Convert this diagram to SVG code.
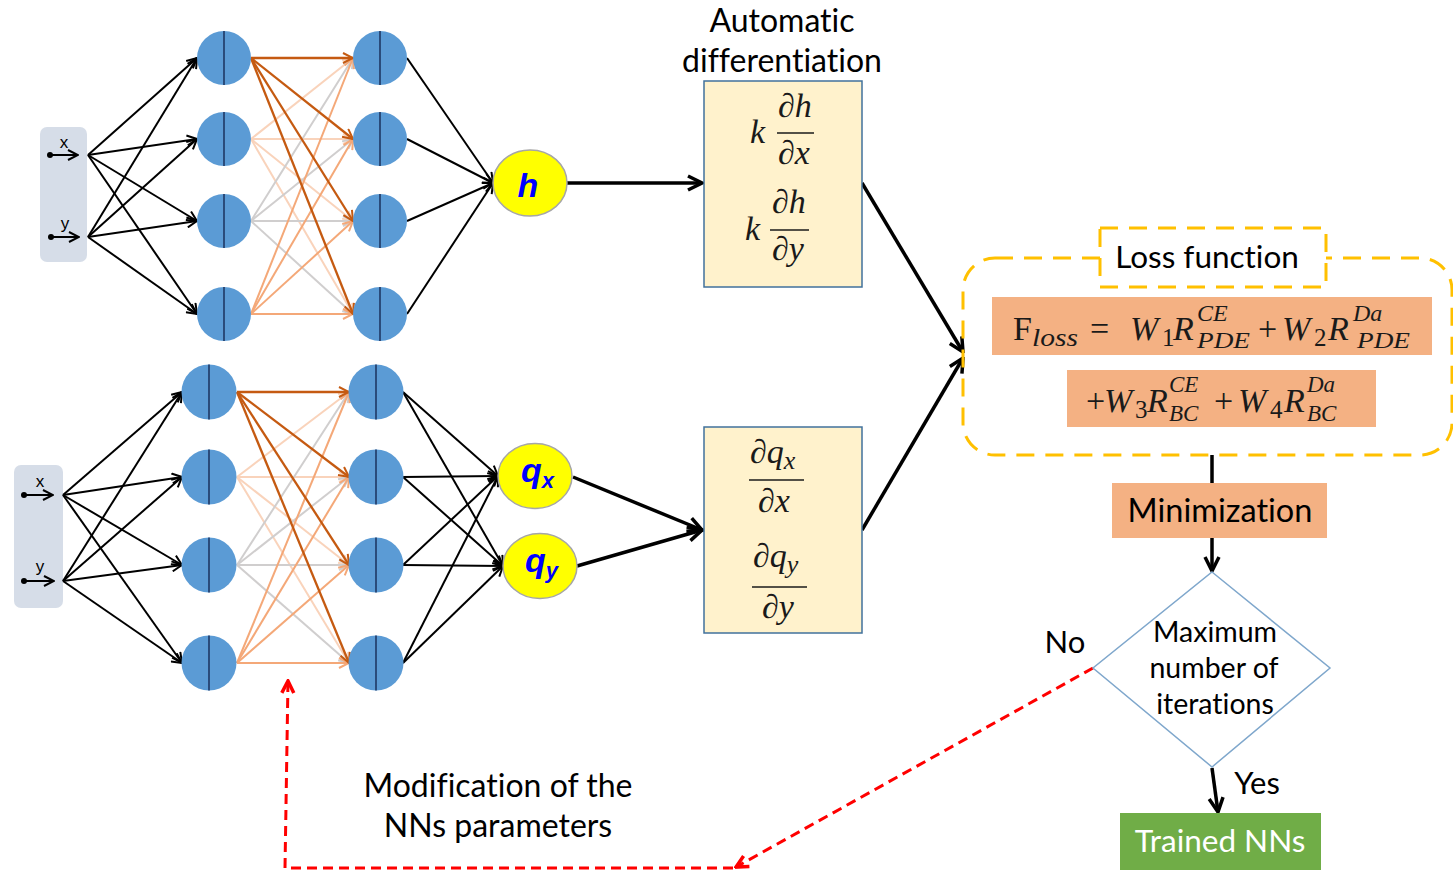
<svg xmlns="http://www.w3.org/2000/svg" width="1453" height="871" viewBox="0 0 1453 871">
  <style>
    .bg { fill: #ffffff; }
    .inbox { fill: #d6dde8; }
    .neuron circle { fill: #5b9bd5; }
    .neuron line { stroke: #1f3864; stroke-width: 1.6; }
    .out ellipse { fill: #ffff00; stroke: #a6a6a6; stroke-width: 1.5; }
    .out text { font-family: "Liberation Sans", Arial, sans-serif; font-weight: bold; font-style: italic; fill: #0000ff; }
    .e-k { stroke: #000; stroke-width: 2; fill: none; marker-end: url(#ak); }
    .e-dk { stroke: #c55a11; stroke-width: 2.3; marker-end: url(#adk); }
    .e-pe { stroke: #f9d3bb; stroke-width: 2; marker-end: url(#ape); }
    .e-gr { stroke: #d0cece; stroke-width: 2; marker-end: url(#agr); }
    .e-or { stroke: #f4a878; stroke-width: 2; marker-end: url(#aor); }
    .thick { stroke: #000; stroke-width: 3.5; fill: none; marker-end: url(#akb); }
    .red { stroke: #ff0000; stroke-width: 3; fill: none; stroke-dasharray: 10 6; }
    .label { font-family: Lato, "Open Sans", sans-serif; fill: #000; font-variant-ligatures: none; }
    .math { font-family: "Liberation Serif", "Times New Roman", serif; fill: #1a1a1a; }
    .it { font-style: italic; }
    .dbox { fill: #fff2cc; stroke: #41719c; stroke-width: 1.5; }
    .salmon { fill: #f4b183; }
    .gold { fill: none; stroke: #ffc000; stroke-width: 3; stroke-dasharray: 18 11; }
  </style>
  <defs>
    <marker id="ak" viewBox="0 0 12 12" refX="11" refY="6" markerWidth="12" markerHeight="12" markerUnits="userSpaceOnUse" orient="auto">
      <path d="M1,1 L11,6 L1,11" fill="none" stroke="#000" stroke-width="2"/>
    </marker>
    <marker id="adk" viewBox="0 0 12 12" refX="11" refY="6" markerWidth="12" markerHeight="12" markerUnits="userSpaceOnUse" orient="auto">
      <path d="M1,1 L11,6 L1,11" fill="none" stroke="#c55a11" stroke-width="2"/>
    </marker>
    <marker id="ape" viewBox="0 0 12 12" refX="11" refY="6" markerWidth="12" markerHeight="12" markerUnits="userSpaceOnUse" orient="auto">
      <path d="M1,1 L11,6 L1,11" fill="none" stroke="#f9d3bb" stroke-width="2"/>
    </marker>
    <marker id="agr" viewBox="0 0 12 12" refX="11" refY="6" markerWidth="12" markerHeight="12" markerUnits="userSpaceOnUse" orient="auto">
      <path d="M1,1 L11,6 L1,11" fill="none" stroke="#d0cece" stroke-width="2"/>
    </marker>
    <marker id="aor" viewBox="0 0 12 12" refX="11" refY="6" markerWidth="12" markerHeight="12" markerUnits="userSpaceOnUse" orient="auto">
      <path d="M1,1 L11,6 L1,11" fill="none" stroke="#f4a878" stroke-width="2"/>
    </marker>
    <marker id="akb" viewBox="0 0 18 18" refX="16" refY="9" markerWidth="18" markerHeight="18" markerUnits="userSpaceOnUse" orient="auto">
      <path d="M2,2 L16,9 L2,16" fill="none" stroke="#000" stroke-width="3.5"/>
    </marker>
    <marker id="ared" viewBox="0 0 16 16" refX="14" refY="8" markerWidth="16" markerHeight="16" markerUnits="userSpaceOnUse" orient="auto">
      <path d="M2,2 L14,8 L2,14" fill="none" stroke="#ff0000" stroke-width="3.5"/>
    </marker>
  </defs>

  <rect class="bg" x="0" y="0" width="1453" height="871"/>

  <!-- input boxes -->
  <g id="input-top">
    <rect class="inbox" x="40" y="127" width="47" height="135" rx="7"/>
    <circle cx="50" cy="155" r="3" fill="#000"/>
    <line class="e-k" x1="50" y1="155" x2="78" y2="155"/>
    <text x="64" y="148" font-family="Liberation Sans, sans-serif" font-size="17" text-anchor="middle">x</text>
    <circle cx="51" cy="237" r="3" fill="#000"/>
    <line class="e-k" x1="51" y1="237" x2="79" y2="237"/>
    <text x="65" y="229" font-family="Liberation Sans, sans-serif" font-size="17" text-anchor="middle">y</text>
  </g>
  <g id="input-bottom">
    <rect class="inbox" x="14" y="465" width="49" height="143" rx="7"/>
    <circle cx="24" cy="495" r="3" fill="#000"/>
    <line class="e-k" x1="24" y1="495" x2="53" y2="495"/>
    <text x="40" y="487" font-family="Liberation Sans, sans-serif" font-size="17" text-anchor="middle">x</text>
    <circle cx="24" cy="581" r="3" fill="#000"/>
    <line class="e-k" x1="24" y1="581" x2="54" y2="581"/>
    <text x="40" y="572" font-family="Liberation Sans, sans-serif" font-size="17" text-anchor="middle">y</text>
  </g>

  <!-- connectors -->
  <g id="connectors">
    <!-- top network: inputs to first hidden layer -->
    <line class="e-k" x1="88" y1="155" x2="197" y2="58"/>
    <line class="e-k" x1="88" y1="155" x2="197" y2="139"/>
    <line class="e-k" x1="88" y1="155" x2="197" y2="221"/>
    <line class="e-k" x1="88" y1="155" x2="197" y2="314"/>
    <line class="e-k" x1="88" y1="237" x2="197" y2="58"/>
    <line class="e-k" x1="88" y1="237" x2="197" y2="139"/>
    <line class="e-k" x1="88" y1="237" x2="197" y2="221"/>
    <line class="e-k" x1="88" y1="237" x2="197" y2="314"/>
    <!-- top network: hidden to hidden -->
    <line class="e-pe" x1="251" y1="139" x2="353" y2="58"/>
    <line class="e-pe" x1="251" y1="139" x2="353" y2="139"/>
    <line class="e-pe" x1="251" y1="139" x2="353" y2="221"/>
    <line class="e-pe" x1="251" y1="139" x2="353" y2="314"/>
    <line class="e-gr" x1="251" y1="221" x2="353" y2="58"/>
    <line class="e-gr" x1="251" y1="221" x2="353" y2="139"/>
    <line class="e-gr" x1="251" y1="221" x2="353" y2="221"/>
    <line class="e-gr" x1="251" y1="221" x2="353" y2="314"/>
    <line class="e-or" x1="251" y1="314" x2="353" y2="58"/>
    <line class="e-or" x1="251" y1="314" x2="353" y2="139"/>
    <line class="e-or" x1="251" y1="314" x2="353" y2="221"/>
    <line class="e-or" x1="251" y1="314" x2="353" y2="314"/>
    <line class="e-dk" x1="251" y1="58" x2="353" y2="58"/>
    <line class="e-dk" x1="251" y1="58" x2="353" y2="139"/>
    <line class="e-dk" x1="251" y1="58" x2="353" y2="221"/>
    <line class="e-dk" x1="251" y1="58" x2="353" y2="314"/>
    <!-- top network: hidden to h -->
    <line class="e-k" x1="407" y1="58" x2="493" y2="183"/>
    <line class="e-k" x1="407" y1="139" x2="493" y2="183"/>
    <line class="e-k" x1="407" y1="221" x2="493" y2="183"/>
    <line class="e-k" x1="407" y1="314" x2="493" y2="183"/>

    <!-- bottom network: inputs to first hidden layer -->
    <line class="e-k" x1="63" y1="495" x2="182" y2="392"/>
    <line class="e-k" x1="63" y1="495" x2="182" y2="477"/>
    <line class="e-k" x1="63" y1="495" x2="182" y2="565"/>
    <line class="e-k" x1="63" y1="495" x2="182" y2="663"/>
    <line class="e-k" x1="63" y1="581" x2="182" y2="392"/>
    <line class="e-k" x1="63" y1="581" x2="182" y2="477"/>
    <line class="e-k" x1="63" y1="581" x2="182" y2="565"/>
    <line class="e-k" x1="63" y1="581" x2="182" y2="663"/>
    <!-- bottom network: hidden to hidden -->
    <line class="e-pe" x1="237" y1="477" x2="349" y2="392"/>
    <line class="e-pe" x1="237" y1="477" x2="349" y2="477"/>
    <line class="e-pe" x1="237" y1="477" x2="349" y2="565"/>
    <line class="e-pe" x1="237" y1="477" x2="349" y2="663"/>
    <line class="e-gr" x1="237" y1="565" x2="349" y2="392"/>
    <line class="e-gr" x1="237" y1="565" x2="349" y2="477"/>
    <line class="e-gr" x1="237" y1="565" x2="349" y2="565"/>
    <line class="e-gr" x1="237" y1="565" x2="349" y2="663"/>
    <line class="e-or" x1="237" y1="663" x2="349" y2="392"/>
    <line class="e-or" x1="237" y1="663" x2="349" y2="477"/>
    <line class="e-or" x1="237" y1="663" x2="349" y2="565"/>
    <line class="e-or" x1="237" y1="663" x2="349" y2="663"/>
    <line class="e-dk" x1="237" y1="392" x2="349" y2="392"/>
    <line class="e-dk" x1="237" y1="392" x2="349" y2="477"/>
    <line class="e-dk" x1="237" y1="392" x2="349" y2="565"/>
    <line class="e-dk" x1="237" y1="392" x2="349" y2="663"/>
    <!-- bottom network: hidden to qx / qy -->
    <line class="e-k" x1="403" y1="392" x2="498" y2="476"/>
    <line class="e-k" x1="403" y1="477" x2="498" y2="476"/>
    <line class="e-k" x1="403" y1="565" x2="498" y2="476"/>
    <line class="e-k" x1="403" y1="663" x2="498" y2="476"/>
    <line class="e-k" x1="403" y1="392" x2="503" y2="566"/>
    <line class="e-k" x1="403" y1="477" x2="503" y2="566"/>
    <line class="e-k" x1="403" y1="565" x2="503" y2="566"/>
    <line class="e-k" x1="403" y1="663" x2="503" y2="566"/>

    <!-- outputs to differentiation boxes -->
    <line class="thick" x1="567" y1="183" x2="702" y2="183"/>
    <line class="thick" x1="573" y1="477" x2="702" y2="530"/>
    <line class="thick" x1="577" y1="566" x2="702" y2="530"/>
    <!-- differentiation boxes to loss function -->
    <line class="thick" x1="862" y1="183" x2="963" y2="352"/>
    <line class="thick" x1="862" y1="530" x2="963" y2="358"/>
    <!-- loss -> minimization -> decision -> trained -->
    <line stroke="#000" stroke-width="3.5" x1="1212" y1="455" x2="1212" y2="483"/>
    <line class="thick" x1="1212" y1="538" x2="1212" y2="571"/>
    <line class="thick" x1="1212" y1="768" x2="1218" y2="812"/>
    <!-- feedback loop -->
    <line class="red" x1="1093" y1="668" x2="736" y2="867" marker-end="url(#ared)"/>
    <polyline class="red" points="733,868 285,868 288,681" marker-end="url(#ared)"/>
  </g>

  <!-- top network neurons -->
  <g id="t-h1-1" class="neuron"><circle cx="224" cy="58" r="27"/><line x1="224" y1="31" x2="224" y2="85"/></g>
  <g id="t-h1-2" class="neuron"><circle cx="224" cy="139" r="27"/><line x1="224" y1="112" x2="224" y2="166"/></g>
  <g id="t-h1-3" class="neuron"><circle cx="224" cy="221" r="27"/><line x1="224" y1="194" x2="224" y2="248"/></g>
  <g id="t-h1-4" class="neuron"><circle cx="224" cy="314" r="27"/><line x1="224" y1="287" x2="224" y2="341"/></g>
  <g id="t-h2-1" class="neuron"><circle cx="380" cy="58" r="27"/><line x1="380" y1="31" x2="380" y2="85"/></g>
  <g id="t-h2-2" class="neuron"><circle cx="380" cy="139" r="27"/><line x1="380" y1="112" x2="380" y2="166"/></g>
  <g id="t-h2-3" class="neuron"><circle cx="380" cy="221" r="27"/><line x1="380" y1="194" x2="380" y2="248"/></g>
  <g id="t-h2-4" class="neuron"><circle cx="380" cy="314" r="27"/><line x1="380" y1="287" x2="380" y2="341"/></g>

  <!-- bottom network neurons -->
  <g id="b-h1-1" class="neuron"><circle cx="209" cy="392" r="27.5"/><line x1="209" y1="364.5" x2="209" y2="419.5"/></g>
  <g id="b-h1-2" class="neuron"><circle cx="209" cy="477" r="27.5"/><line x1="209" y1="449.5" x2="209" y2="504.5"/></g>
  <g id="b-h1-3" class="neuron"><circle cx="209" cy="565" r="27.5"/><line x1="209" y1="537.5" x2="209" y2="592.5"/></g>
  <g id="b-h1-4" class="neuron"><circle cx="209" cy="663" r="27.5"/><line x1="209" y1="635.5" x2="209" y2="690.5"/></g>
  <g id="b-h2-1" class="neuron"><circle cx="376" cy="392" r="27.5"/><line x1="376" y1="364.5" x2="376" y2="419.5"/></g>
  <g id="b-h2-2" class="neuron"><circle cx="376" cy="477" r="27.5"/><line x1="376" y1="449.5" x2="376" y2="504.5"/></g>
  <g id="b-h2-3" class="neuron"><circle cx="376" cy="565" r="27.5"/><line x1="376" y1="537.5" x2="376" y2="592.5"/></g>
  <g id="b-h2-4" class="neuron"><circle cx="376" cy="663" r="27.5"/><line x1="376" y1="635.5" x2="376" y2="690.5"/></g>

  <!-- network outputs -->
  <g id="out-h" class="out">
    <ellipse cx="530" cy="183" rx="37" ry="33"/>
    <text x="528" y="197" font-size="34" text-anchor="middle">h</text>
  </g>
  <g id="out-qx" class="out">
    <ellipse cx="535" cy="476" rx="37" ry="32.5"/>
    <text x="521" y="482" font-size="34">q<tspan font-size="22" dy="6">x</tspan></text>
  </g>
  <g id="out-qy" class="out">
    <ellipse cx="540" cy="566" rx="37" ry="32.5"/>
    <text x="525" y="572" font-size="34">q<tspan font-size="22" dy="6">y</tspan></text>
  </g>

  <!-- automatic differentiation of h -->
  <g id="diff-h">
    <text class="label" x="782" y="32" font-size="32" text-anchor="middle">Automatic</text>
    <text class="label" x="782" y="72" font-size="32" text-anchor="middle">differentiation</text>
    <rect class="dbox" x="704" y="81" width="158" height="206"/>
    <text class="math it" x="750" y="143" font-size="34">k</text>
    <text class="math it" x="778" y="117" font-size="34">∂h</text>
    <line x1="777" y1="133" x2="814" y2="133" stroke="#1a1a1a" stroke-width="1.6"/>
    <text class="math it" x="778" y="164" font-size="34">∂x</text>
    <text class="math it" x="745" y="240" font-size="34">k</text>
    <text class="math it" x="772" y="213" font-size="34">∂h</text>
    <line x1="770" y1="230" x2="809" y2="230" stroke="#1a1a1a" stroke-width="1.6"/>
    <text class="math it" x="772" y="260" font-size="34">∂y</text>
  </g>

  <!-- automatic differentiation of q -->
  <g id="diff-q">
    <rect class="dbox" x="704" y="427" width="158" height="206"/>
    <text class="math it" x="750" y="463" font-size="34">∂q<tspan font-size="26" dy="6">x</tspan></text>
    <line x1="749" y1="480" x2="804" y2="480" stroke="#1a1a1a" stroke-width="1.6"/>
    <text class="math it" x="758" y="512" font-size="34">∂x</text>
    <text class="math it" x="753" y="567" font-size="34">∂q<tspan font-size="26" dy="6">y</tspan></text>
    <line x1="752" y1="587" x2="807" y2="587" stroke="#1a1a1a" stroke-width="1.6"/>
    <text class="math it" x="762" y="618" font-size="34">∂y</text>
  </g>

  <!-- loss function -->
  <g id="loss">
    <rect class="gold" x="963" y="258" width="489" height="197" rx="32"/>
    <rect x="1100" y="228" width="226" height="59" fill="#ffffff"/>
    <rect class="gold" x="1100" y="228" width="226" height="59"/>
    <text class="label" x="1207" y="268" font-size="31.5" text-anchor="middle">Loss function</text>
    <rect class="salmon" x="992" y="297" width="440" height="58"/>
    <text class="math" x="1013" y="340" font-size="34">F</text>
    <text class="math it" x="1032" y="346" font-size="25" textLength="46" lengthAdjust="spacingAndGlyphs">loss</text>
    <text class="math" x="1090" y="340" font-size="34">=</text>
    <text class="math it" x="1130" y="340" font-size="34">W</text>
    <text class="math" x="1162" y="346" font-size="25">1</text>
    <text class="math it" x="1173" y="340" font-size="34">R</text>
    <text class="math it" x="1197" y="321" font-size="24">CE</text>
    <text class="math it" x="1197" y="348" font-size="24" textLength="53" lengthAdjust="spacingAndGlyphs">PDE</text>
    <text class="math" x="1258" y="340" font-size="34">+</text>
    <text class="math it" x="1282" y="340" font-size="34">W</text>
    <text class="math" x="1314" y="346" font-size="25">2</text>
    <text class="math it" x="1328" y="340" font-size="34">R</text>
    <text class="math it" x="1353" y="321" font-size="24">Da</text>
    <text class="math it" x="1357" y="348" font-size="24" textLength="53" lengthAdjust="spacingAndGlyphs">PDE</text>
    <rect class="salmon" x="1067" y="370" width="309" height="57"/>
    <text class="math" x="1086" y="412" font-size="34">+</text>
    <text class="math it" x="1104" y="412" font-size="34">W</text>
    <text class="math" x="1135" y="418" font-size="25">3</text>
    <text class="math it" x="1147" y="412" font-size="34">R</text>
    <text class="math it" x="1169" y="392" font-size="23">CE</text>
    <text class="math it" x="1169" y="421" font-size="23">BC</text>
    <text class="math" x="1214" y="412" font-size="34">+</text>
    <text class="math it" x="1238" y="412" font-size="34">W</text>
    <text class="math" x="1270" y="418" font-size="25">4</text>
    <text class="math it" x="1284" y="412" font-size="34">R</text>
    <text class="math it" x="1307" y="392" font-size="23">Da</text>
    <text class="math it" x="1307" y="421" font-size="23">BC</text>
  </g>

  <!-- minimization -->
  <g id="minimization">
    <rect class="salmon" x="1112" y="483" width="215" height="55"/>
    <text class="label" x="1220" y="522" font-size="32.5" text-anchor="middle">Minimization</text>
  </g>

  <!-- stopping criterion -->
  <g id="decision">
    <polygon points="1212,572 1330,668 1212,767 1093,668" fill="#ffffff" stroke="#7fa7cc" stroke-width="1.5"/>
    <text class="label" x="1215" y="642" font-size="28.5" text-anchor="middle">Maximum</text>
    <text class="label" x="1214" y="678" font-size="28.5" text-anchor="middle">number of</text>
    <text class="label" x="1215" y="714" font-size="28.5" text-anchor="middle">iterations</text>
    <text class="label" x="1065" y="653" font-size="31" text-anchor="middle">No</text>
    <text class="label" x="1257" y="794" font-size="31" text-anchor="middle">Yes</text>
  </g>

  <!-- result -->
  <g id="trained">
    <rect x="1120" y="813" width="201" height="57" fill="#70ad47"/>
    <text class="label" x="1220" y="852" font-size="31.5" text-anchor="middle" style="fill:#ffffff">Trained NNs</text>
  </g>

  <!-- feedback label -->
  <g id="feedback-label">
    <text class="label" x="498" y="797" font-size="32" text-anchor="middle">Modification of the</text>
    <text class="label" x="498" y="837" font-size="32" text-anchor="middle">NNs parameters</text>
  </g>
</svg>
